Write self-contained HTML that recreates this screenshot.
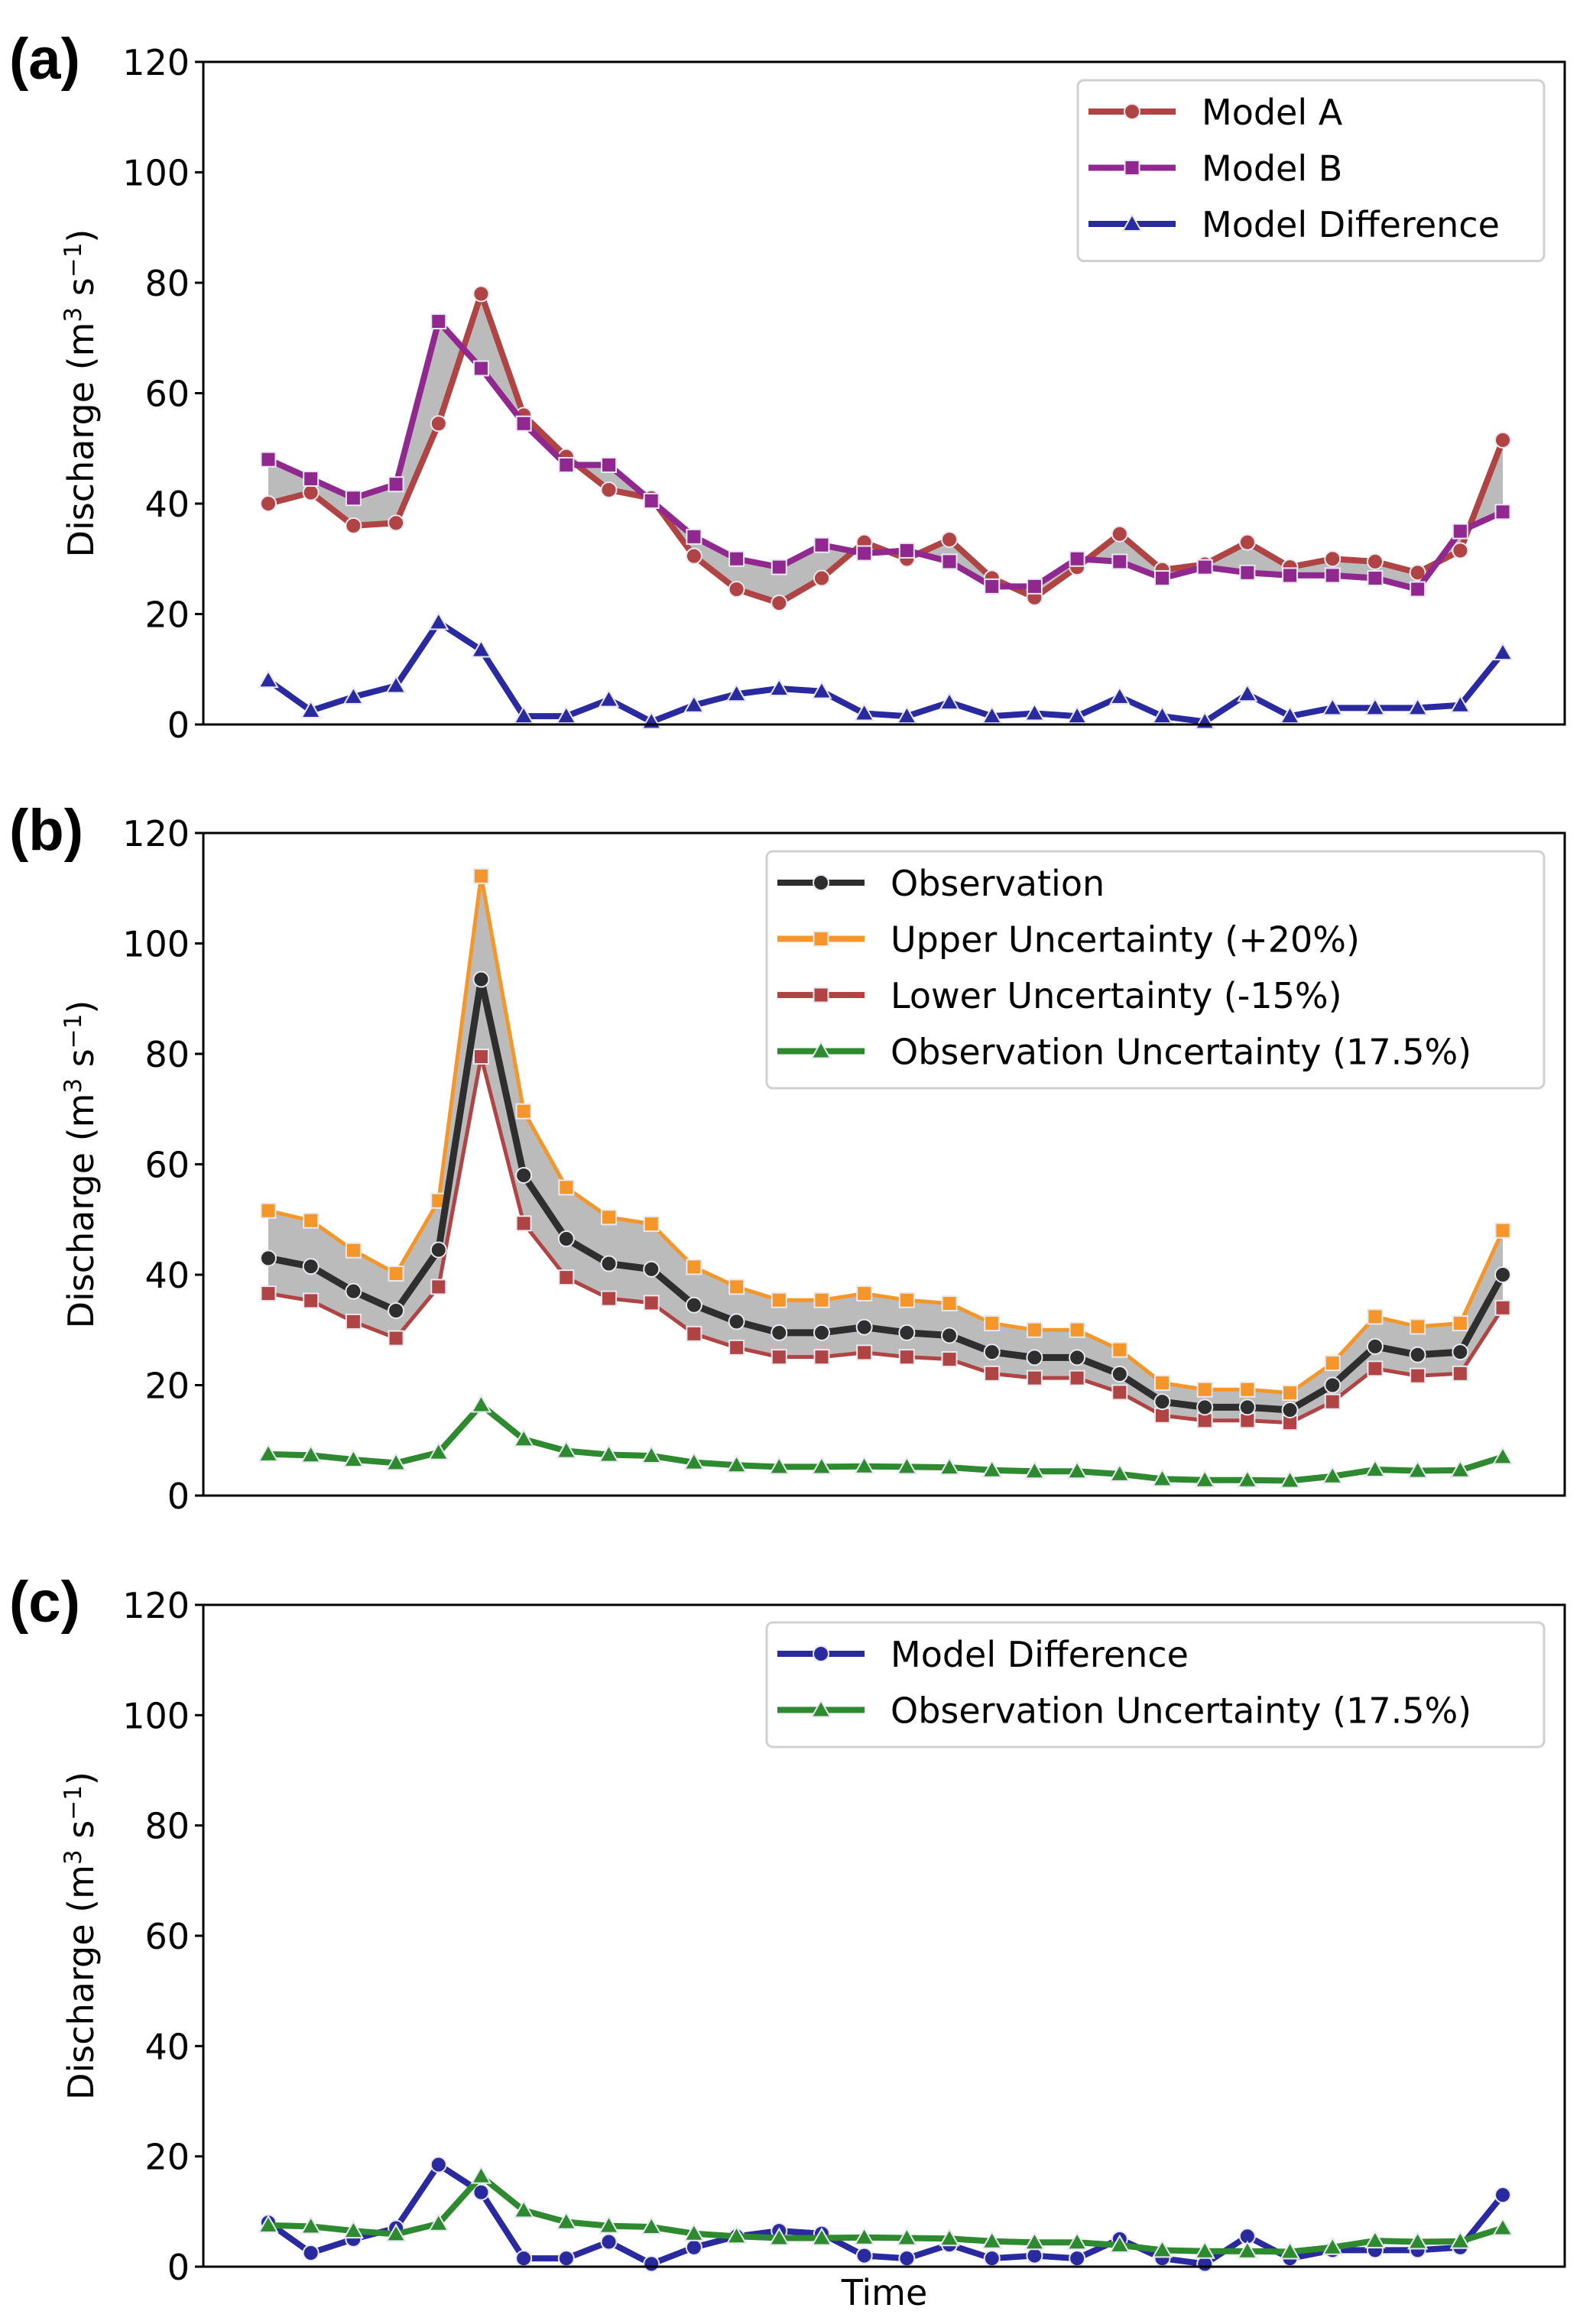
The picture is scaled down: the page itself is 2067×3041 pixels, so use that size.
<!DOCTYPE html>
<html><head><meta charset="utf-8"><style>
html,body{margin:0;padding:0;background:#fff}
svg{display:block;font-family:"DejaVu Sans","Liberation Sans",sans-serif}
</style></head><body>
<svg id="chart" width="2067" height="3041" viewBox="0 0 2067 3041" xmlns="http://www.w3.org/2000/svg"></svg>
<script>
const modelA=[40,42,36,36.5,54.5,78,56,48.5,42.5,41,30.5,24.5,22,26.5,33,30,33.5,26.5,23,28.5,34.5,28,29,33,28.5,30,29.5,27.5,31.5,51.5];
const modelB=[48,44.5,41,43.5,73,64.5,54.5,47,47,40.5,34,30,28.5,32.5,31,31.5,29.5,25,25,30,29.5,26.5,28.5,27.5,27,27,26.5,24.5,35,38.5];
const modelDiff=[8,2.5,5,7,18.5,13.5,1.5,1.5,4.5,0.5,3.5,5.5,6.5,6,2,1.5,4,1.5,2,1.5,5,1.5,0.5,5.5,1.5,3,3,3,3.5,13];
const observation=[43,41.5,37,33.5,44.5,93.5,58,46.5,42,41,34.5,31.5,29.5,29.5,30.5,29.5,29,26,25,25,22,17,16,16,15.5,20,27,25.5,26,40];
const upperUnc=[51.6,49.8,44.4,40.2,53.4,112.2,69.6,55.8,50.4,49.2,41.4,37.8,35.4,35.4,36.6,35.4,34.8,31.2,30,30,26.4,20.4,19.2,19.2,18.6,24,32.4,30.6,31.2,48];
const lowerUnc=[36.6,35.3,31.5,28.5,37.8,79.5,49.3,39.5,35.7,34.9,29.3,26.8,25.1,25.1,25.9,25.1,24.7,22.1,21.3,21.3,18.7,14.5,13.6,13.6,13.2,17,23,21.7,22.1,34];
const obsUnc=[7.5,7.3,6.5,5.9,7.8,16.4,10.2,8.1,7.4,7.2,6,5.5,5.2,5.2,5.3,5.2,5.1,4.6,4.4,4.4,3.9,3,2.8,2.8,2.7,3.5,4.7,4.5,4.6,7];
const yTicks=[0,20,40,60,80,100,120];

const NS="http://www.w3.org/2000/svg";
const svg=document.getElementById('chart');
const L=266,R=2047,X0=351,X1=1966;
function mk(tag,attrs,parent){const e=document.createElementNS(NS,tag);for(const k in attrs)e.setAttribute(k,attrs[k]);(parent||svg).appendChild(e);return e;}
function xs(i,n){return X0+(X1-X0)*i/(n-1);}

function marker(g,type,x,y,color){
  let e;
  if(type==='o')e=mk('circle',{cx:x,cy:y,r:10,fill:color,stroke:'#e8e8f0','stroke-width':2},g);
  else if(type==='s')e=mk('rect',{x:x-9.5,y:y-9.5,width:19,height:19,fill:color,stroke:'#e8e8f0','stroke-width':2},g);
  else e=mk('polygon',{points:`${x},${y-12} ${x-12},${y+9} ${x+12},${y+9}`,fill:color,stroke:'#e8e8f0','stroke-width':2},g);
  return e;
}

function panel(top,bot,letter,series,fills,legend,showTime){
  const ys=v=>bot-(bot-top)*v/120;
  const g=mk('g',{});
  
  
  const lt=mk('text',{x:12,y:top+22,'font-size':76,'font-weight':'bold','font-family':'Liberation Sans, sans-serif'},g);lt.textContent='('+letter+')';
  
  
  fills.forEach(f=>{
    const n=f[0].length;let pts=[];
    for(let i=0;i<n;i++)pts.push(xs(i,n)+','+ys(f[0][i]));
    for(let i=n-1;i>=0;i--)pts.push(xs(i,n)+','+ys(f[1][i]));
    const p=mk('polygon',{points:pts.join(' '),fill:'#aaaaaa','fill-opacity':0.8},g);
    
    
  });
  series.forEach(s=>{
    const n=s.data.length;
    const sg=mk('g',{},g);
    
    
    mk('polyline',{points:s.data.map((v,i)=>xs(i,n)+','+ys(v)).join(' '),fill:'none',stroke:s.color,'stroke-width':s.w||8,'stroke-linejoin':'round'},sg);
    s.data.forEach((v,i)=>marker(sg,s.m,xs(i,n),ys(v),s.color));
  });
  const ax=mk('rect',{x:L,y:top,width:R-L,height:bot-top,fill:'none',stroke:'#000','stroke-width':3},g);
  
  
  yTicks.forEach(t=>{
    const y=ys(t);
    mk('line',{x1:L-11,x2:L,y1:y,y2:y,stroke:'#000','stroke-width':3},g);
    const tx=mk('text',{x:L-18,y:y+17,'font-size':46,'text-anchor':'end'},g);tx.textContent=t;
    
    
  });
  const cy=(top+bot)/2;
  const yl=mk('text',{x:0,y:0,'font-size':46,'text-anchor':'middle',transform:`translate(122,${cy}) rotate(-90)`},g);
  yl.innerHTML='Discharge (m<tspan font-size="31" dy="-16">3</tspan><tspan dy="16"> s</tspan><tspan font-size="31" dy="-16">−1</tspan><tspan dy="16">)</tspan>';
  
  
  const lg=mk('g',{},g);
  
  
  mk('rect',{x:legend.x,y:legend.y,width:2020-legend.x,height:legend.entries.length*73.5+16,rx:8,fill:'#fff','fill-opacity':0.85,stroke:'#d0d0d0','stroke-width':3},lg);
  legend.entries.forEach((e,i)=>{
    const y=legend.y+41+i*73.5;
    const eg=mk('g',{},lg);
    
    
    mk('line',{x1:legend.x+14,x2:legend.x+128,y1:y,y2:y,stroke:e.color,'stroke-width':8},eg);
    marker(eg,e.m,legend.x+71,y,e.color);
    const t=mk('text',{x:legend.x+162,y:y+17,'font-size':46},eg);t.textContent=e.label;
  });
  if(showTime){
    const t=mk('text',{x:1157,y:3016,'font-size':46,'text-anchor':'middle'},g);t.textContent='Time';
    
    
  }
}
const cA='#b04444',cB='#902890',cD='#2a2aa0',cO='#2e2e2e',cU='#f5962a',cL='#b04444',cG='#2e8a2e';
panel(81,948,'a',[
 {name:'model-a',data:modelA,color:cA,m:'o'},
 {name:'model-b',data:modelB,color:cB,m:'s'},
 {name:'model-difference',data:modelDiff,color:cD,m:'^'}],
 [[modelA,modelB]],
 {x:1410,y:105,entries:[{label:'Model A',color:cA,m:'o'},{label:'Model B',color:cB,m:'s'},{label:'Model Difference',color:cD,m:'^'}]},false);
panel(1090,1957,'b',[
 {name:'upper-uncertainty',data:upperUnc,color:cU,m:'s',w:5},
 {name:'lower-uncertainty',data:lowerUnc,color:cL,m:'s',w:5},
 {name:'observation',data:observation,color:cO,m:'o',w:9},
 {name:'observation-uncertainty',data:obsUnc,color:cG,m:'^'}],
 [[upperUnc,lowerUnc]],
 {x:1003,y:1114,entries:[{label:'Observation',color:cO,m:'o'},{label:'Upper Uncertainty (+20%)',color:cU,m:'s'},{label:'Lower Uncertainty (-15%)',color:cL,m:'s'},{label:'Observation Uncertainty (17.5%)',color:cG,m:'^'}]},false);
panel(2100,2966,'c',[
 {name:'model-difference',data:modelDiff,color:cD,m:'o'},
 {name:'observation-uncertainty',data:obsUnc,color:cG,m:'^'}],
 [],
 {x:1003,y:2123,entries:[{label:'Model Difference',color:cD,m:'o'},{label:'Observation Uncertainty (17.5%)',color:cG,m:'^'}]},true);
</script>
</body></html>
